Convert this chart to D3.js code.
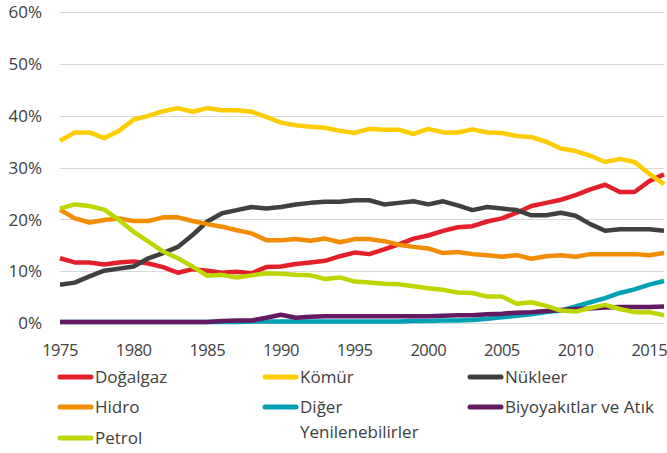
<!DOCTYPE html>
<html>
<head>
<meta charset="utf-8">
<script src="https://cdn.jsdelivr.net/npm/d3@7"></script>
<style>
  html, body { margin: 0; padding: 0; background: #fff; }
  svg { display: block; font-family: "Open Sans", sans-serif; }
</style>
</head>
<body>
<svg id="chart" width="667" height="453"></svg>
<script>
// years 1975..2016
const years = d3.range(1975, 2017);
const yTicks = [0, 10, 20, 30, 40, 50, 60];
const xTicks = [1975, 1980, 1985, 1990, 1995, 2000, 2005, 2010, 2015];

const dogalgaz = [12.5, 11.7, 11.7, 11.3, 11.7, 11.9, 11.5, 10.8, 9.7, 10.4, 10.1, 9.7, 9.9, 9.6, 10.8,
  10.9, 11.4, 11.7, 12.0, 12.9, 13.6, 13.3, 14.2, 15.2, 16.3, 16.9, 17.8, 18.5,
  18.7, 19.6, 20.2, 21.3, 22.6, 23.2, 23.8, 24.7, 25.8, 26.7, 25.3, 25.3, 27.4, 28.7];
const komur = [35.2, 36.8, 36.8, 35.7, 37.1, 39.3, 40.0, 40.9, 41.5, 40.8, 41.5, 41.1, 41.1, 40.8, 39.8,
  38.7, 38.2, 37.9, 37.7, 37.1, 36.7, 37.5, 37.3, 37.3, 36.5, 37.5, 36.8, 36.8,
  37.4, 36.8, 36.7, 36.1, 35.9, 35.0, 33.7, 33.2, 32.3, 31.1, 31.7, 31.1, 28.8, 26.8];
const nukleer = [7.4, 7.8, 9.0, 10.1, 10.5, 10.9, 12.5, 13.5, 14.7, 17.0, 19.6, 21.2, 21.8, 22.4, 22.1,
  22.4, 22.9, 23.2, 23.4, 23.4, 23.7, 23.7, 22.9, 23.2, 23.5, 22.9, 23.5, 22.7,
  21.8, 22.4, 22.1, 21.8, 20.8, 20.8, 21.3, 20.7, 19.1, 17.8, 18.1, 18.1, 18.1, 17.8];
const hidro = [21.9, 20.2, 19.4, 19.9, 20.2, 19.7, 19.7, 20.4, 20.4, 19.7, 19.1, 18.6, 17.9, 17.3, 16.0,
  16.0, 16.2, 15.9, 16.3, 15.6, 16.2, 16.2, 15.8, 15.1, 14.7, 14.4, 13.5, 13.7,
  13.3, 13.1, 12.8, 13.1, 12.4, 12.9, 13.1, 12.8, 13.3, 13.3, 13.3, 13.3, 13.1, 13.5];
const diger = [0.2, 0.2, 0.2, 0.2, 0.2, 0.2, 0.2, 0.2, 0.2, 0.2, 0.2, 0.2, 0.2, 0.3, 0.3,
  0.3, 0.3, 0.3, 0.3, 0.3, 0.3, 0.3, 0.3, 0.3, 0.4, 0.4, 0.5, 0.5,
  0.6, 0.8, 1.1, 1.4, 1.7, 2.1, 2.4, 3.2, 4.0, 4.8, 5.8, 6.5, 7.4, 8.1];
const biyo = [0.2, 0.2, 0.2, 0.2, 0.2, 0.2, 0.2, 0.2, 0.2, 0.2, 0.2, 0.4, 0.5, 0.5, 1.0,
  1.6, 1.0, 1.2, 1.3, 1.3, 1.3, 1.3, 1.3, 1.3, 1.3, 1.3, 1.4, 1.5,
  1.5, 1.7, 1.8, 2.0, 2.1, 2.3, 2.5, 2.7, 2.8, 3.0, 3.1, 3.1, 3.1, 3.2];
const petrol = [22.1, 22.9, 22.6, 21.9, 19.9, 17.6, 15.7, 13.8, 12.5, 10.9, 9.1, 9.3, 8.8, 9.2, 9.6,
  9.5, 9.3, 9.2, 8.5, 8.8, 8.0, 7.8, 7.6, 7.5, 7.1, 6.7, 6.4, 5.9,
  5.8, 5.1, 5.1, 3.7, 4.0, 3.3, 2.4, 2.2, 2.9, 3.5, 2.7, 2.1, 2.1, 1.5];

const seriesNames = ["Doğalgaz", "Kömür", "Nükleer", "Hidro", "Diğer Yenilenebilirler", "Biyoyakıtlar ve Atık", "Petrol"];
const seriesValues = [dogalgaz, komur, nukleer, hidro, diger, biyo, petrol];
const seriesColors = ["#e3202a", "#ffcc00", "#404040", "#f28c00", "#00a0b4", "#621b62", "#bed600"];

const svg = d3.select("#chart");
const x = d3.scaleLinear().domain([1975, 2016]).range([60, 664]);
const y = d3.scaleLinear().domain([0, 60]).range([323, 12.3]);

// grid lines
svg.append("g")
  .selectAll("line")
  .data(yTicks)
  .join("line")
  .attr("x1", x.range()[0]).attr("x2", x.range()[1])
  .attr("y1", d => Math.round(y(d)) + 0.5).attr("y2", d => Math.round(y(d)) + 0.5)
  .attr("stroke", "#d9d9d9")
  .attr("stroke-width", 1);

// y labels
svg.append("g")
  .selectAll("text")
  .data(yTicks)
  .join("text")
  .attr("x", 42)
  .attr("y", d => y(d))
  .attr("dy", "0.36em")
  .attr("text-anchor", "end")
  .attr("font-size", "17px")
  .attr("fill", "#404040")
  .text(d => d + "%");

// x labels (slightly tightened so 2015 stays inside the frame)
svg.append("g")
  .selectAll("text")
  .data(xTicks)
  .join("text")
  .attr("x", d => x(d))
  .attr("y", 350)
  .attr("dy", "0.36em")
  .attr("text-anchor", "middle")
  .attr("font-size", "16.5px")
  .attr("letter-spacing", "-0.5px")
  .attr("fill", "#404040")
  .text(d => d);

// lines
const line = d3.line()
  .x((d, i) => x(years[i]))
  .y(d => y(d));

svg.append("g")
  .selectAll("path")
  .data(seriesValues)
  .join("path")
  .attr("d", line)
  .attr("fill", "none")
  .attr("stroke", (d, i) => seriesColors[i])
  .attr("stroke-width", 4.5)
  .attr("stroke-linejoin", "round");

// legend, 3 columns
const legendCols = [58, 263, 468];
const legendRows = [377, 407, 438];
const legend = svg.append("g")
  .selectAll("g")
  .data(seriesNames)
  .join("g")
  .attr("transform", (d, i) => `translate(${legendCols[i % 3]},${legendRows[Math.floor(i / 3)]})`);

legend.append("line")
  .attr("x1", 2).attr("x2", 33)
  .attr("stroke", (d, i) => seriesColors[i])
  .attr("stroke-width", 5)
  .attr("stroke-linecap", "round");

legend.append("text")
  .attr("x", 37)
  .attr("font-size", "17px")
  .attr("fill", "#404040")
  .each(function (d) {
    const t = d3.select(this);
    const words = d === "Diğer Yenilenebilirler" ? ["Diğer", "Yenilenebilirler"] : [d];
    words.forEach((w, k) => {
      t.append("tspan")
        .attr("x", 37)
        .attr("dy", k === 0 ? "0.36em" : "25px")
        .text(w);
    });
  });
</script>
</body>
</html>
